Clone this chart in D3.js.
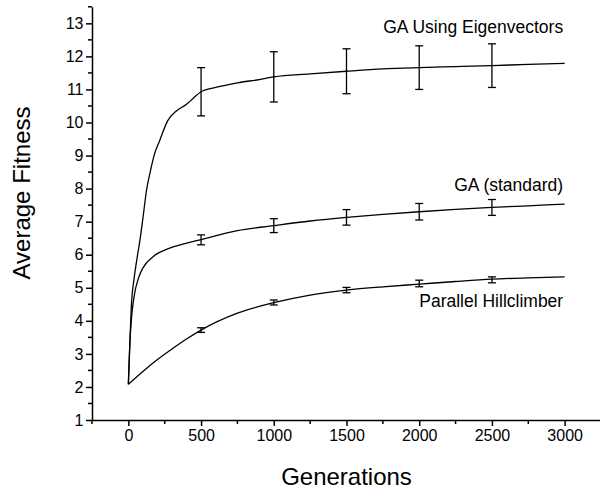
<!DOCTYPE html>
<html>
<head>
<meta charset="utf-8">
<script src="https://cdn.jsdelivr.net/npm/d3@7"></script>
<style>
  html, body { margin: 0; padding: 0; background: #fff; }
  svg { display: block; font-family: "Liberation Sans", Arial, sans-serif; }
</style>
</head>
<body>
<svg id="chart" width="600" height="491"></svg>
<script>
// ---- data ----
const eigenX = [0, 10, 20, 40, 60, 80, 100, 125, 150, 180, 215, 270, 330, 400, 450, 500, 600, 750, 900, 1000, 1250, 1500, 1750, 2000, 2250, 2500, 2750, 3000];
const eigenY = [2.08, 3.3, 4.4, 5.3, 5.9, 6.45, 7.1, 7.95, 8.5, 9.05, 9.45, 10.05, 10.35, 10.55, 10.75, 10.93, 11.06, 11.2, 11.3, 11.38, 11.47, 11.55, 11.62, 11.66, 11.69, 11.72, 11.76, 11.79];

const stdX = [0, 10, 20, 40, 70, 100, 170, 280, 400, 500, 750, 1000, 1250, 1500, 1750, 2000, 2250, 2500, 2750, 3000];
const stdY = [2.08, 3.3, 4.0, 4.75, 5.3, 5.6, 5.94, 6.19, 6.35, 6.46, 6.73, 6.88, 7.02, 7.13, 7.22, 7.30, 7.37, 7.43, 7.48, 7.53];

const hillX = [0, 100, 200, 300, 400, 500, 750, 1000, 1250, 1500, 1750, 2000, 2250, 2500, 2750, 3000];
const hillY = [2.08, 2.47, 2.83, 3.15, 3.45, 3.72, 4.23, 4.55, 4.78, 4.93, 5.03, 5.11, 5.19, 5.26, 5.30, 5.33];

const errX = [500, 1000, 1500, 2000, 2500];
const eigenErrMean = [10.93, 11.38, 11.55, 11.66, 11.72];
const eigenErr = [0.73, 0.76, 0.68, 0.66, 0.66];
const stdErrMean = [6.45, 6.88, 7.13, 7.30, 7.43];
const stdErr = [0.15, 0.21, 0.235, 0.25, 0.24];
const hillErrMean = [3.72, 4.555, 4.93, 5.13, 5.24];
const hillErr = [0.07, 0.075, 0.08, 0.10, 0.09];

const seriesNames = ["GA Using Eigenvectors", "GA (standard)", "Parallel Hillclimber"];
const labelX = [2990, 2990, 2990];
const labelY = [12.70, 7.93, 4.43];

const xTicks = [0, 500, 1000, 1500, 2000, 2500, 3000];
const xMinor = [-250, 250, 750, 1250, 1750, 2250, 2750, 3250];
const yTicks = [1, 2, 3, 4, 5, 6, 7, 8, 9, 10, 11, 12, 13];
const yMinor = [1.5, 2.5, 3.5, 4.5, 5.5, 6.5, 7.5, 8.5, 9.5, 10.5, 11.5, 12.5, 13.5];

const xTitle = "Generations";
const yTitle = "Average Fitness";

// ---- chart ----
const svg = d3.select("#chart");
const x = d3.scaleLinear().domain([-250, 3250]).range([92, 601]);
const y = d3.scaleLinear().domain([1, 13.5]).range([420, 6.8]);

// y axis
const yAxis = svg.append("g").attr("transform", `translate(${x(-250)},0)`)
  .call(d3.axisLeft(y).tickValues(yTicks).tickFormat(d3.format("d")).tickSize(6).tickSizeOuter(0));
yAxis.append("g").selectAll("line").data(yMinor).join("line")
  .attr("x1", -4).attr("x2", 0).attr("y1", d => y(d)).attr("y2", d => y(d))
  .attr("stroke", "#000").attr("stroke-width", 1.5);

// x axis
const xAxis = svg.append("g").attr("transform", `translate(0,${y(1)})`)
  .call(d3.axisBottom(x).tickValues(xTicks).tickFormat(d3.format("d")).tickSize(6).tickSizeOuter(0));
xAxis.append("g").selectAll("line").data(xMinor).join("line")
  .attr("y1", 0).attr("y2", 4).attr("x1", d => x(d)).attr("x2", d => x(d))
  .attr("stroke", "#000").attr("stroke-width", 1.5);

[xAxis, yAxis].forEach(a => {
  a.select(".domain").attr("stroke", "#000").attr("stroke-width", 1.5);
  a.selectAll(".tick line").attr("stroke", "#000").attr("stroke-width", 1.5);
  a.selectAll(".tick text").attr("fill", "#000")
    .style("font-family", "'Liberation Sans', Arial, sans-serif").style("font-size", "16px");
});
yAxis.selectAll(".tick text").attr("x", -8.5);
xAxis.selectAll(".tick text").attr("y", 10);

// lines
const line = d3.line().x(d => x(d[0])).y(d => y(d[1])).curve(d3.curveMonotoneX);
const seriesData = [
  d3.zip(eigenX, eigenY),
  d3.zip(stdX, stdY),
  d3.zip(hillX, hillY)
];
svg.append("g").selectAll("path").data(seriesData).join("path")
  .attr("d", line).attr("fill", "none").attr("stroke", "#000").attr("stroke-width", 1.3);

// error bars
const errSets = [
  [eigenErrMean, eigenErr],
  [stdErrMean, stdErr],
  [hillErrMean, hillErr]
];
const cap = 4;
errSets.forEach(([m, e]) => {
  const g = svg.append("g").attr("stroke", "#000").attr("stroke-width", 1.3);
  errX.forEach((xv, i) => {
    const top = y(m[i] + e[i]), bot = y(m[i] - e[i]), px = x(xv);
    g.append("line").attr("x1", px).attr("x2", px).attr("y1", top).attr("y2", bot);
    g.append("line").attr("x1", px - cap).attr("x2", px + cap).attr("y1", top).attr("y2", top);
    g.append("line").attr("x1", px - cap).attr("x2", px + cap).attr("y1", bot).attr("y2", bot);
  });
});

// series labels
svg.append("g").selectAll("text").data(seriesNames).join("text")
  .attr("x", (d, i) => x(labelX[i])).attr("y", (d, i) => y(labelY[i]))
  .attr("text-anchor", "end").style("font-size", "17.5px").attr("fill", "#000")
  .text(d => d);

// axis titles
svg.append("text").attr("x", 346.5).attr("y", 485).attr("text-anchor", "middle")
  .style("font-size", "24px").attr("fill", "#000").text(xTitle);
svg.append("text").attr("transform", "translate(30,193) rotate(-90)").attr("text-anchor", "middle")
  .style("font-size", "24px").attr("fill", "#000").text(yTitle);
</script>
</body>
</html>
